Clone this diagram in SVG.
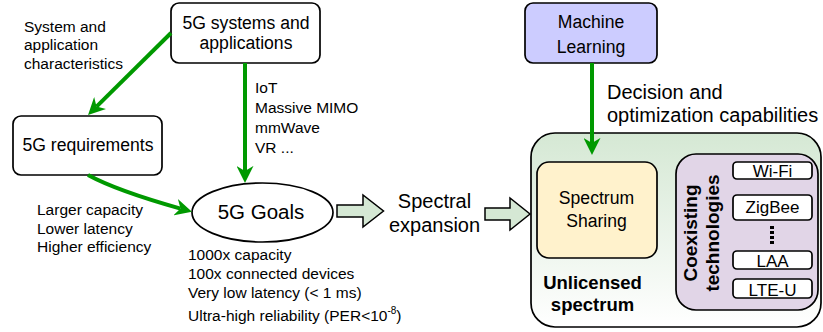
<svg xmlns="http://www.w3.org/2000/svg" width="823" height="332" viewBox="0 0 823 332">
<style>
text{font-family:"Liberation Sans",Arial,sans-serif;fill:#000}
.box{stroke:#000;stroke-width:1.7}
.lbl{font-size:15.5px}
.btx{font-size:17.6px;text-anchor:middle}
.big{font-size:20px}
.sm{font-size:17px;text-anchor:middle}
.bold{font-weight:bold;text-anchor:middle}
.green{fill:none;stroke:#009900;stroke-width:4}
.blk{fill:#d5e8d4;stroke:#000;stroke-width:1.5;stroke-linejoin:miter}
</style>
<defs>
<marker id="ah" viewBox="0 0 10 10" markerUnits="userSpaceOnUse" markerWidth="17" markerHeight="17" refX="3" refY="5" orient="auto">
<path d="M0,0 L10,5 L0,10 L3,5 Z" fill="#009900"/>
</marker>
<linearGradient id="gr" x1="0" y1="0" x2="0" y2="1">
<stop offset="0" stop-color="#d5e8d4"/>
<stop offset="1" stop-color="#ffffff"/>
</linearGradient>
</defs>

<g id="lbl-characteristics">
<text class="lbl" x="24" y="31.5">System and</text>
<text class="lbl" x="24" y="50">application</text>
<text class="lbl" x="24" y="68.5">characteristics</text>
</g>
<g id="lbl-apps">
<text class="lbl" x="255" y="93">IoT</text>
<text class="lbl" x="255" y="113">Massive MIMO</text>
<text class="lbl" x="255" y="132.7">mmWave</text>
<text class="lbl" x="255" y="152.5">VR ...</text>
</g>
<g id="lbl-requirements">
<text class="lbl" x="37" y="215">Larger capacity</text>
<text class="lbl" x="37" y="233.5">Lower latency</text>
<text class="lbl" x="37" y="252.3">Higher efficiency</text>
</g>
<g id="lbl-goals">
<text class="lbl" x="188" y="260">1000x capacity</text>
<text class="lbl" x="188" y="279.3">100x connected devices</text>
<text class="lbl" x="188" y="297.7">Very low latency (&lt; 1 ms)</text>
<text class="lbl" x="188" y="320.5">Ultra-high reliability (PER&lt;10<tspan font-size="10" dy="-7">-8</tspan><tspan dy="7">)</tspan></text>
</g>
<g id="lbl-expansion">
<text class="big" x="434.5" y="207.5" text-anchor="middle">Spectral</text>
<text class="big" x="434.5" y="231.5" text-anchor="middle">expansion</text>
</g>
<g id="lbl-decision">
<text class="big" x="607" y="99">Decision and</text>
<text class="big" x="607" y="121.7">optimization capabilities</text>
</g>

<g id="systems">
<rect class="box" x="171" y="3" width="149" height="60" rx="8" fill="#fff"/>
<text class="btx" x="246" y="29">5G systems and</text>
<text class="btx" x="246" y="49">applications</text>
</g>
<g id="requirements">
<rect class="box" x="13" y="116" width="149" height="59" rx="8" fill="#fff"/>
<text class="btx" x="88" y="151">5G requirements</text>
</g>
<g id="goals">
<ellipse class="box" cx="262.5" cy="212.5" rx="70.5" ry="29.5" fill="#fff"/>
<text x="261" y="218.5" font-size="20.5" text-anchor="middle">5G Goals</text>
</g>
<g id="ml">
<rect class="box" x="525" y="3" width="132" height="60" rx="8" fill="#ccccff"/>
<text class="btx" x="591" y="27.5" font-size="18">Machine</text>
<text class="btx" x="591" y="52.5" font-size="18">Learning</text>
</g>
<g id="unlicensed">
<rect class="box" x="531" y="133" width="290" height="194" rx="24" fill="url(#gr)"/>
<text class="bold" x="592.5" y="289.3" font-size="18.5">Unlicensed</text>
<text class="bold" x="592.5" y="310.7" font-size="18.5">spectrum</text>
</g>
<g id="sharing">
<rect class="box" x="537" y="162" width="120" height="96" rx="12" fill="#fff2cc"/>
<text class="btx" x="596.5" y="204" font-size="19">Spectrum</text>
<text class="btx" x="596.5" y="227.3" font-size="19">Sharing</text>
</g>
<g id="coexisting">
<rect class="box" x="676" y="154" width="142" height="156" rx="20" fill="#e1d5e7"/>
<text class="bold" font-size="19" transform="translate(697,233) rotate(-90)" x="0" y="0">Coexisting</text>
<text class="bold" font-size="19" transform="translate(697,233) rotate(-90)" x="0" y="22">technologies</text>
</g>
<g id="wifi">
<rect class="box" x="733" y="162" width="79" height="17" rx="4" fill="#fff"/>
<text class="sm" x="772.5" y="177">Wi-Fi</text>
</g>
<g id="zigbee">
<rect class="box" x="733" y="195" width="79" height="25" rx="4" fill="#fff"/>
<text class="sm" x="772.5" y="213">ZigBee</text>
</g>
<g id="dots">
<line x1="772" y1="226" x2="772" y2="244" stroke="#000" stroke-width="4" stroke-dasharray="3 2"/>
</g>
<g id="laa">
<rect class="box" x="733" y="251" width="79" height="18" rx="4" fill="#fff"/>
<text class="sm" x="772.5" y="267">LAA</text>
</g>
<g id="lteu">
<rect class="box" x="733" y="279" width="79" height="19" rx="4" fill="#fff"/>
<text class="sm" x="772.5" y="295.5">LTE-U</text>
</g>

<g id="connectors">
<path class="green" d="M171,33 L96.5,106.6" marker-end="url(#ah)"/>
<path class="green" d="M245,63 L245,171" marker-end="url(#ah)"/>
<path class="green" d="M88,175 C110,187 150,200 180.5,208.6" marker-end="url(#ah)"/>
<path class="green" d="M592,63 L592,143" marker-end="url(#ah)"/>
<path class="blk" d="M337,205 L363,205 L363,195 L383.5,211 L363,227 L363,217 L337,217 Z"/>
<path class="blk" d="M485,208 L510,208 L510,198 L530,214 L510,230 L510,220 L485,220 Z"/>
</g>
</svg>
